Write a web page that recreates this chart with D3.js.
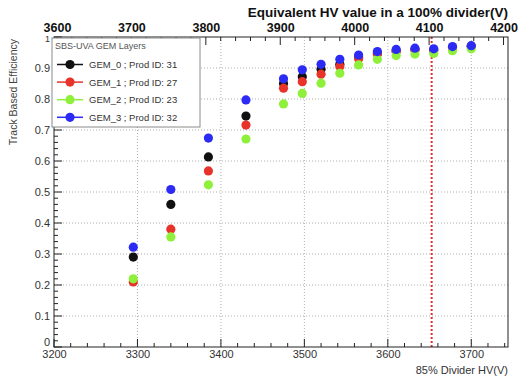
<!DOCTYPE html>
<html><head><meta charset="utf-8">
<script src="https://cdn.jsdelivr.net/npm/d3@7"></script>
<style>
html,body{margin:0;padding:0;background:#fff;}
svg{display:block;font-family:"Liberation Sans",Arial,Helvetica,sans-serif;}
</style></head><body>
<svg id="c" width="525" height="377"></svg>
<script>
// ---- data ----
const hv85 = [3295, 3340, 3385, 3430, 3475, 3497.5, 3520, 3542.5, 3565, 3587.5, 3610, 3632.5, 3655, 3677.5, 3700];
const gem0 = [0.290, 0.460, 0.613, 0.745, 0.850, 0.872, 0.896, 0.912, 0.935, 0.947, 0.955, 0.960, 0.958, 0.965, 0.970];
const gem1 = [0.210, 0.380, 0.568, 0.716, 0.835, 0.856, 0.880, 0.905, 0.930, 0.945, 0.953, 0.958, 0.956, 0.965, 0.970];
const gem2 = [0.220, 0.355, 0.523, 0.671, 0.784, 0.818, 0.851, 0.883, 0.910, 0.928, 0.940, 0.945, 0.947, 0.956, 0.962];
const gem3 = [0.322, 0.508, 0.674, 0.797, 0.865, 0.894, 0.912, 0.928, 0.942, 0.953, 0.960, 0.964, 0.962, 0.969, 0.972];
const seriesNames = ["GEM_0 ; Prod ID: 31", "GEM_1 ; Prod ID: 27", "GEM_2 ; Prod ID: 23", "GEM_3 ; Prod ID: 32"];
const seriesColors = ["#111111", "#e8332a", "#8ef03a", "#2b2bf5"];
const legendTitle = "SBS-UVA GEM Layers";
const bottomTicks = [3200, 3300, 3400, 3500, 3600, 3700];
const topTicks = [3600, 3700, 3800, 3900, 4000, 4100, 4200];
const yTicks = [0, 0.1, 0.2, 0.3, 0.4, 0.5, 0.6, 0.7, 0.8, 0.9, 1];
const refLine = 3652.5;
const xDomain = [3200, 3744];
const topDomain = [3596, 4206];
const xTitle = "85% Divider HV(V)";
const topTitle = "Equivalent HV value in a 100% divider(V)";
const yTitle = "Track Based Efficiency";

const allSeries = [gem0, gem1, gem2, gem3];

// ---- layout ----
const L = 54, R = 508, T = 37, B = 347;
const svg = d3.select("#c");
const x = d3.scaleLinear().domain(xDomain).range([L, R]);
const xt = d3.scaleLinear().domain(topDomain).range([L, R]);
const y = d3.scaleLinear().domain([0, 1]).range([B, T]);

// grid
const grid = svg.append("g").attr("stroke", "#9a9a9a").attr("stroke-width", 0.8).attr("stroke-dasharray", "1,2");
bottomTicks.filter(v => v > xDomain[0]).forEach(v => {
  grid.append("line").attr("x1", x(v)).attr("x2", x(v)).attr("y1", T).attr("y2", B);
});
yTicks.filter(v => v > 0 && v < 1).forEach(v => {
  grid.append("line").attr("x1", L).attr("x2", R).attr("y1", y(v)).attr("y2", y(v));
});

// red reference line
svg.append("line").attr("x1", x(refLine)).attr("x2", x(refLine)).attr("y1", T).attr("y2", B)
  .attr("stroke", "#e03030").attr("stroke-width", 2).attr("stroke-dasharray", "2,2");

// bottom axis
const minorX = d3.range(3200, 3744, 20);
const xAxis = d3.axisBottom(x).tickValues(bottomTicks).tickFormat(d3.format("d")).tickSize(0).tickPadding(3);
const gx = svg.append("g").attr("transform", `translate(0,${B})`).call(xAxis);
gx.select(".domain").remove();
gx.selectAll("text").attr("font-size", 11).attr("fill", "#333");
svg.append("g").selectAll("line").data(minorX).join("line")
  .attr("x1", d => x(d)).attr("x2", d => x(d))
  .attr("y1", B).attr("y2", d => B - (d % 100 === 0 ? 8 : 4))
  .attr("stroke", "#222").attr("stroke-width", 1);

// top axis
const minorTop = d3.range(3600, 4206, 20);
const tAxis = d3.axisTop(xt).tickValues(topTicks).tickFormat(d3.format("d")).tickSize(0).tickPadding(5);
const gt = svg.append("g").attr("transform", `translate(0,${T})`).call(tAxis);
gt.select(".domain").remove();
gt.selectAll("text").attr("font-size", 12.5).attr("font-weight", "bold").attr("fill", "#111");
svg.append("g").selectAll("line").data(minorTop).join("line")
  .attr("x1", d => xt(d)).attr("x2", d => xt(d))
  .attr("y1", T).attr("y2", d => T + (d % 100 === 0 ? 8 : 4))
  .attr("stroke", "#222").attr("stroke-width", 1);

// left axis
const minorY = d3.range(0, 1.0001, 0.02);
const yAxis = d3.axisLeft(y).tickValues(yTicks).tickFormat(d => d === 0 ? "0" : d === 1 ? "1" : d3.format(".1f")(d)).tickSize(0).tickPadding(4);
const gy = svg.append("g").attr("transform", `translate(${L},0)`).call(yAxis);
gy.select(".domain").remove();
gy.selectAll("text").attr("font-size", 11).attr("fill", "#333");
gy.selectAll(".tick").filter(d => d === 0).select("text").attr("dy", "-0.15em");
gy.selectAll(".tick").filter(d => d === 1).select("text").attr("font-size", 9).attr("dy", "0.55em");
svg.append("g").selectAll("line").data(minorY).join("line")
  .attr("y1", d => y(d)).attr("y2", d => y(d))
  .attr("x1", L).attr("x2", (d, i) => L + (i % 5 === 0 ? 8 : 4))
  .attr("stroke", "#222").attr("stroke-width", 1);

// frame
svg.append("rect").attr("x", L).attr("y", T).attr("width", R - L).attr("height", B - T)
  .attr("fill", "none").attr("stroke", "#222").attr("stroke-width", 1);

// titles
svg.append("text").attr("x", R).attr("y", 17).attr("text-anchor", "end")
  .attr("font-size", 13.5).attr("font-weight", "bold").attr("fill", "#111").text(topTitle);
svg.append("text").attr("x", R).attr("y", 374).attr("text-anchor", "end")
  .attr("font-size", 11).attr("fill", "#333").text(xTitle);
svg.append("text").attr("transform", `translate(17,${T + 2}) rotate(-90)`).attr("text-anchor", "end")
  .attr("font-size", 10.5).attr("fill", "#444").text(yTitle);

// points
const pts = svg.append("g");
allSeries.forEach((s, si) => {
  pts.append("g").selectAll("circle").data(s).join("circle")
    .attr("cx", (d, i) => x(hv85[i])).attr("cy", d => y(d)).attr("r", 4.6)
    .attr("fill", seriesColors[si]);
});

// legend
const lg = svg.append("g");
lg.append("rect").attr("x", L - 2).attr("y", T + 1).attr("width", 148).attr("height", 89)
  .attr("fill", "#fff").attr("stroke", "#8a8a8a").attr("stroke-width", 1);
lg.append("text").attr("x", L + 1).attr("y", 49).attr("font-size", 9).attr("fill", "#555").text(legendTitle);
seriesNames.forEach((n, i) => {
  const yy = 64.5 + i * 17.6;
  lg.append("line").attr("x1", 57).attr("x2", 83).attr("y1", yy).attr("y2", yy)
    .attr("stroke", seriesColors[i]).attr("stroke-width", 1.5);
  lg.append("circle").attr("cx", 70).attr("cy", yy).attr("r", 4.6).attr("fill", seriesColors[i]);
  lg.append("text").attr("x", 89).attr("y", yy + 3.5).attr("font-size", 9.5).attr("fill", "#333").text(n);
});
</script>
</body></html>
